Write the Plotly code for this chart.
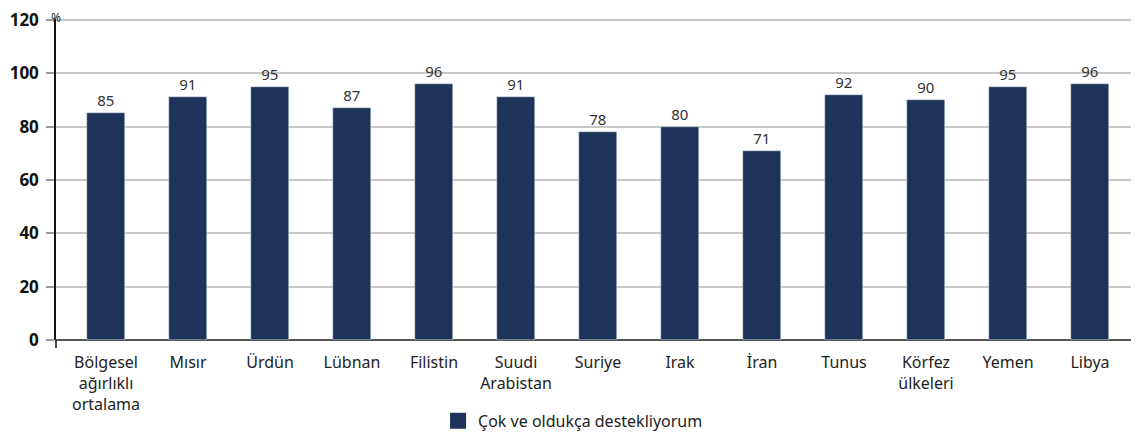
import plotly.graph_objects as go

categories = ['Bölgesel<br>ağırlıklı<br>ortalama', 'Mısır', 'Ürdün', 'Lübnan', 'Filistin',
              'Suudi<br>Arabistan', 'Suriye', 'Irak', 'İran', 'Tunus',
              'Körfez<br>ülkeleri', 'Yemen', 'Libya']
values = [85, 91, 95, 87, 96, 91, 78, 80, 71, 92, 90, 95, 96]
series_name = 'Çok ve oldukça destekliyorum'
y_ticks = [0, 20, 40, 60, 80, 100, 120]

bar_color = '#1d3359'
label_font = 'Noto Sans'

fig = go.Figure()
fig.add_trace(go.Bar(
    x=list(range(len(categories))),
    y=values,
    name=series_name,
    marker_color=bar_color,
    width=0.46,
    text=values,
    textposition='outside',
    cliponaxis=False,
    textfont=dict(size=15, color='#333333', family=label_font),
    showlegend=False
))
# legend entry with a larger square swatch
fig.add_trace(go.Scatter(
    x=[None], y=[None], mode='markers', name=series_name,
    marker=dict(symbol='square', size=18, color=bar_color),
    showlegend=True
))

fig.update_layout(
    width=1139,
    height=440,
    margin=dict(l=48, r=16, t=11, b=108, autoexpand=False),
    plot_bgcolor='white',
    paper_bgcolor='white',
    font=dict(family=label_font, color='#222222'),
    bargap=0,
    showlegend=True,
    legend=dict(
        orientation='h',
        x=0.481, xanchor='center',
        y=-0.199, yanchor='top',
        font=dict(size=16, color='#222222', family=label_font),
    ),
    annotations=[dict(
        text='%', x=0, y=1, xref='paper', yref='paper',
        xanchor='center', yanchor='top', showarrow=False,
        yshift=11, borderpad=0,
        font=dict(size=12, color='#222222', family=label_font)
    )],
)

fig.update_xaxes(
    tickmode='array',
    tickvals=list(range(len(categories))),
    ticktext=categories,
    range=[-0.61, 12.5],
    tickfont=dict(size=16, color='#222222', family=label_font),
    showgrid=False,
    zeroline=False,
    ticks='',
    automargin=False,
    ticklabelstandoff=11,
)

fig.update_yaxes(
    range=[0, 120.4],
    tickvals=y_ticks,
    tickfont=dict(size=17, color='#111111', family='Open Sans', weight='bold'),
    ticklabeloverflow='allow',
    showgrid=True,
    gridcolor='#c8c8c8',
    gridwidth=1.5,
    zeroline=True,
    zerolinecolor='#555555',
    zerolinewidth=2,
    showline=True,
    linecolor='#111111',
    linewidth=1.5,
    ticks='outside',
    ticklen=8,
    tickcolor='#999999',
    tickwidth=1.5,
    automargin=False,
    ticklabelstandoff=4,
)

fig.add_shape(type='line', xref='paper', yref='paper', x0=0, x1=0, y0=-0.025, y1=0,
              line=dict(color='#111111', width=1.5))

fig.write_html('out.html')
